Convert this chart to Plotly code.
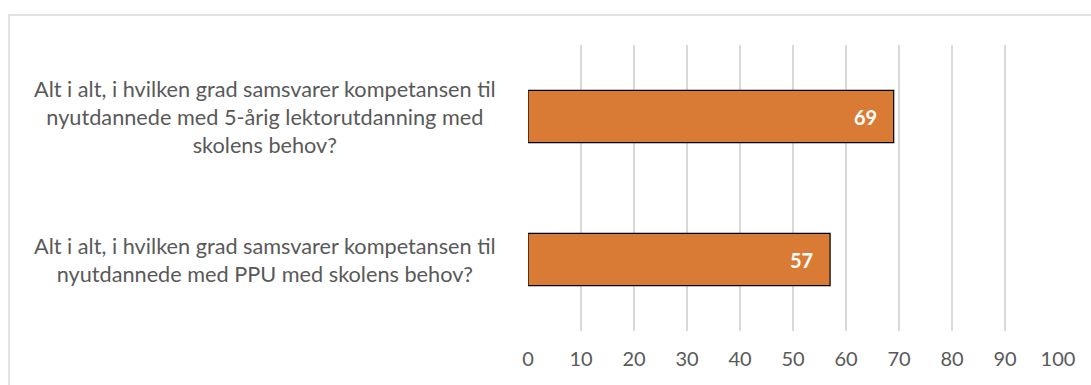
import plotly.graph_objects as go

categories = [
    "Alt i alt, i hvilken grad samsvarer kompetansen til<br>nyutdannede med 5-årig lektorutdanning med<br>skolens behov?",
    "Alt i alt, i hvilken grad samsvarer kompetansen til<br>nyutdannede med PPU med skolens behov?",
]
values = [69, 57]
tick_values = list(range(0, 101, 10))

W, H = 1091, 385
L, R, T, B = 528, 33, 45, 54
plot_w = W - L - R
plot_h = H - T - B

fig = go.Figure()
fig.add_trace(go.Bar(
    y=categories,
    x=values,
    orientation="h",
    width=0.365,
    marker=dict(color="#D97B35", line=dict(color="#000000", width=1.2)),
    hoverinfo="skip",
))

annotations = []
for cat, v in zip(categories, values):
    # value label inside the bar end
    annotations.append(dict(
        x=v, y=cat, xref="x", yref="y", text=f"<b>{v}</b>", showarrow=False,
        xanchor="right", xshift=-15,
        font=dict(family="Lato", size=20, color="#FFFFFF"),
    ))
    # category label, centred block to the left of the plot
    annotations.append(dict(
        x=(265 - L) / plot_w, y=cat, xref="paper", yref="y", text=cat,
        showarrow=False, xanchor="center", align="center",
        font=dict(family="Lato", size=21.7, color="#595959"),
    ))

fig.update_layout(
    width=W, height=H,
    margin=dict(l=L, r=R, t=T, b=B, pad=0),
    paper_bgcolor="white", plot_bgcolor="white",
    showlegend=False,
    annotations=annotations,
    xaxis=dict(
        range=[0, 100], tickvals=tick_values, showgrid=True,
        gridcolor="#D9D9D9", gridwidth=1.5, zeroline=False, showline=False,
        ticks="", ticklabelstandoff=14,
        tickfont=dict(family="Lato", size=20, color="#595959"),
        fixedrange=True,
    ),
    yaxis=dict(
        autorange="reversed", showticklabels=False, showgrid=False,
        zeroline=False, showline=False, ticks="", fixedrange=True,
    ),
    shapes=[dict(
        type="rect", xref="paper", yref="paper",
        x0=(9 - L) / plot_w, x1=1.2, y0=-0.5, y1=1 + (T - 15) / plot_h,
        line=dict(color="#D9D9D9", width=1.5), fillcolor="rgba(0,0,0,0)",
        layer="below",
    )],
)

fig.write_html("out.html")
